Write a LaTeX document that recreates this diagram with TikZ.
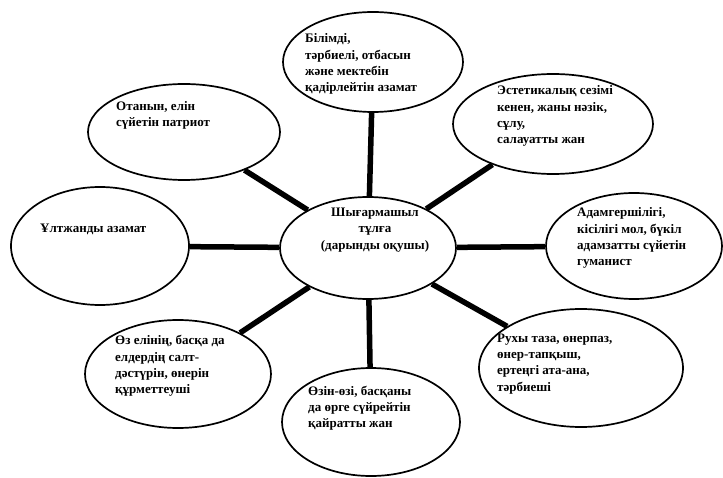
\documentclass[tikz,border=0pt]{standalone}
\usepackage{fontspec}
\setmainfont{Liberation Serif}
\usetikzlibrary{shapes.geometric}
\begin{document}
\begin{tikzpicture}[x=1pt, y=-1pt]
  \tikzstyle{bubble} = [draw=black, ellipse, line width=1.7pt, inner sep=0pt, fill=white];
  \tikzstyle{label_text} = [anchor=west, align=left, inner sep=0pt, font=\bfseries\fontsize{13}{16.2}\selectfont];
  \tikzstyle{spoke} = [line width=5.5pt, black];

  \useasboundingbox (0, 0) rectangle (723, 478);

  \node[bubble, minimum width=176pt, minimum height=102pt] (center)   at (368, 248) {};
  \node[bubble, minimum width=180pt, minimum height=100pt] (top)      at (373, 62)  {};
  \node[bubble, minimum width=200pt, minimum height=100pt] (topright) at (553, 124) {};
  \node[bubble, minimum width=192pt, minimum height=96pt]  (topleft)  at (184, 132) {};
  \node[bubble, minimum width=178pt, minimum height=118pt] (left)     at (100, 246) {};
  \node[bubble, minimum width=176pt, minimum height=106pt] (right)    at (634, 246) {};
  \node[bubble, minimum width=186pt, minimum height=108pt] (botleft)  at (178, 374) {};
  \node[bubble, minimum width=178pt, minimum height=108pt] (bottom)   at (371, 422) {};
  \node[bubble, minimum width=204pt, minimum height=118pt] (botright) at (581, 368) {};

  \draw[spoke] (center) -- (top);
  \draw[spoke] (center) -- (topright);
  \draw[spoke] (center) -- (topleft);
  \draw[spoke] (center) -- (left);
  \draw[spoke] (center) -- (right);
  \draw[spoke] (center) -- (botleft);
  \draw[spoke] (center) -- (bottom);
  \draw[spoke] (center) -- (botright);

  \node[label_text] (top_text)      at (305, 64)  {Білімді,\\тәрбиелі, отбасын\\және мектебін\\қадірлейтін азамат};
  \node[label_text] (topright_text) at (497, 116) {Эстетикалық сезімі\\кенен, жаны нәзік,\\сұлу,\\салауатты жан};
  \node[label_text] (topleft_text)  at (116, 115) {Отанын, елін\\сүйетін патриот};
  \node[label_text] (left_text)     at (40, 229)  {Ұлтжанды азамат};
  \node[label_text, anchor=center, align=center] (center_text) at (375, 230) {Шығармашыл\\тұлға\\(дарынды оқушы)};
  \node[label_text] (right_text)    at (577, 238) {Адамгершілігі,\\кісілігі мол, бүкіл\\адамзатты сүйетін\\гуманист};
  \node[label_text] (botleft_text)  at (115, 366) {Өз елінің, басқа да\\елдердің салт-\\дәстүрін, өнерін\\құрметтеуші};
  \node[label_text] (bottom_text)   at (308, 408) {Өзін-өзі, басқаны\\да өрге сүйрейтін\\қайратты жан};
  \node[label_text] (botright_text) at (497, 364) {Рухы таза, өнерпаз,\\өнер-тапқыш,\\ертеңгі ата-ана,\\тәрбиеші};
\end{tikzpicture}
\end{document}
